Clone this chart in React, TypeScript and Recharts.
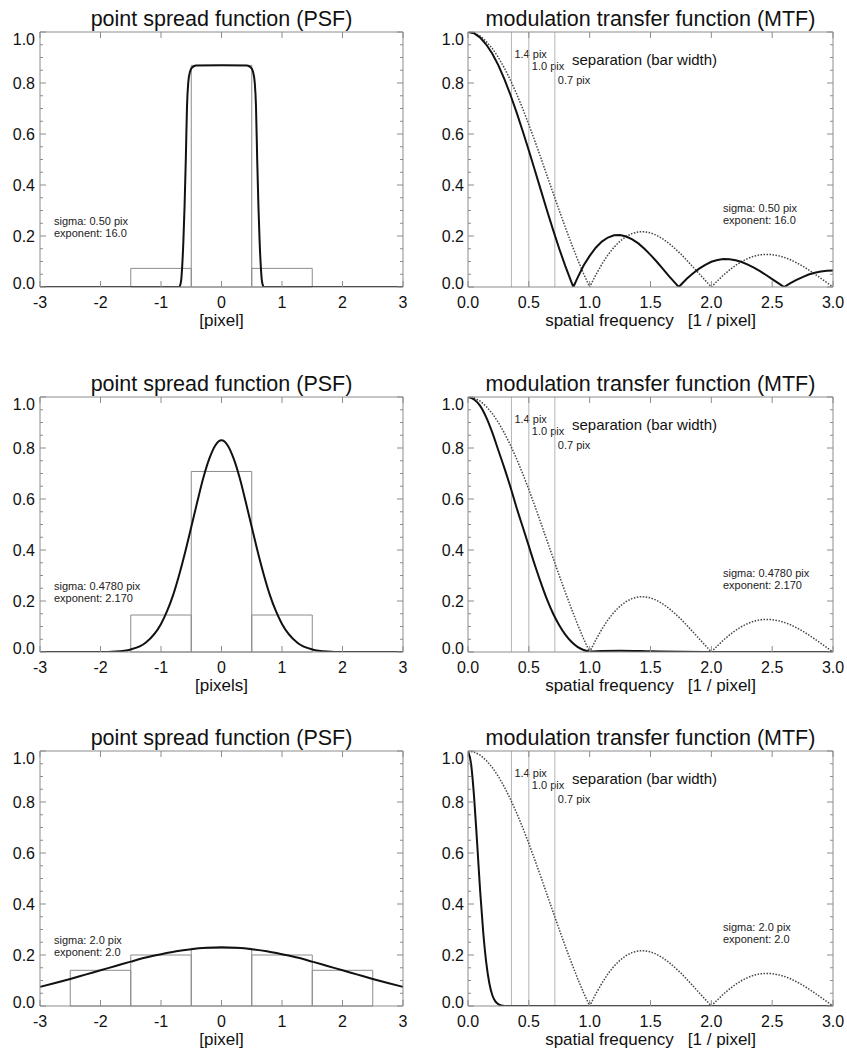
import React from "react";
import { LineChart, Line, XAxis, YAxis, ReferenceLine, ReferenceArea } from "recharts";

const FONT = "'Liberation Sans', Arial, Helvetica, sans-serif";
const INK = "#111";
const FRAME = "#8c8c8c";
const GUIDE = "#b4b4b4";

// axes
const psfTicks = [-3, -2, -1, 0, 1, 2, 3];
const mtfTicks = [0, 0.5, 1, 1.5, 2, 2.5, 3];
const yTicks = [0, 0.05, 0.1, 0.15, 0.2, 0.25, 0.3, 0.35, 0.4, 0.45, 0.5, 0.55, 0.6, 0.65, 0.7, 0.75, 0.8, 0.85, 0.9, 0.95, 1];
const yMajor = [0, 0.2, 0.4, 0.6, 0.8, 1];

// bar-width guides in the MTF panels
const sepFreq = [0.357, 0.5, 0.714];
const sepLabel = ["1.4 pix", "1.0 pix", "0.7 pix"];

// row 1: sigma 0.50, exponent 16
const psf1X = [-3, -0.7, -0.68, -0.665, -0.65, -0.63, -0.61, -0.59, -0.57, -0.55, -0.52, -0.48, -0.42, 0, 0.42, 0.48, 0.52, 0.55, 0.57, 0.59, 0.61, 0.63, 0.65, 0.665, 0.68, 0.7, 3];
const psf1Y = [0, 0, 0.01, 0.03, 0.08, 0.18, 0.32, 0.5, 0.71, 0.8, 0.845, 0.862, 0.869, 0.87, 0.869, 0.862, 0.845, 0.8, 0.71, 0.5, 0.32, 0.18, 0.08, 0.03, 0.01, 0, 0];
const bar1Edges = [-1.5, -0.5, 0.5, 1.5];
const bar1Heights = [0.073, 0.869, 0.073];
const mtf1Freq = [0, 0.05, 0.1, 0.15, 0.2, 0.25, 0.3, 0.35, 0.4, 0.45, 0.5, 0.55, 0.6, 0.65, 0.7, 0.75, 0.8, 0.85, 0.866, 0.9, 0.95, 1, 1.05, 1.1, 1.15, 1.2, 1.25, 1.3, 1.35, 1.4, 1.45, 1.5, 1.55, 1.6, 1.65, 1.7, 1.732, 1.75, 1.8, 1.85, 1.9, 1.95, 2, 2.05, 2.1, 2.15, 2.2, 2.25, 2.3, 2.35, 2.4, 2.45, 2.5, 2.55, 2.598, 2.65, 2.7, 2.75, 2.8, 2.85, 2.9, 2.95, 3];
const mtf1Val = [1, 0.995, 0.978, 0.951, 0.915, 0.869, 0.814, 0.752, 0.684, 0.611, 0.535, 0.457, 0.378, 0.299, 0.223, 0.15, 0.082, 0.019, 0, 0.036, 0.084, 0.122, 0.154, 0.178, 0.194, 0.203, 0.204, 0.198, 0.187, 0.171, 0.15, 0.126, 0.1, 0.072, 0.044, 0.017, 0, 0.009, 0.033, 0.054, 0.072, 0.087, 0.099, 0.106, 0.11, 0.109, 0.105, 0.098, 0.088, 0.076, 0.062, 0.047, 0.031, 0.015, 0, 0.015, 0.028, 0.039, 0.049, 0.056, 0.061, 0.064, 0.065];

// row 2: sigma 0.4780, exponent 2.170
const psf2X = [-3, -2, -1.75, -1.5, -1.25, -1, -0.9, -0.8, -0.7, -0.6, -0.5, -0.4, -0.3, -0.2, -0.1, 0, 0.1, 0.2, 0.3, 0.4, 0.5, 0.6, 0.7, 0.8, 0.9, 1, 1.25, 1.5, 1.75, 2, 3];
const psf2Y = [0, 0, 0.002, 0.01, 0.037, 0.11, 0.16, 0.223, 0.302, 0.392, 0.49, 0.589, 0.683, 0.759, 0.811, 0.83, 0.811, 0.759, 0.683, 0.589, 0.49, 0.392, 0.302, 0.223, 0.16, 0.11, 0.037, 0.01, 0.002, 0, 0];
const bar2Edges = [-1.5, -0.5, 0.5, 1.5];
const bar2Heights = [0.145, 0.708, 0.145];
const mtf2Freq = [0, 0.05, 0.1, 0.15, 0.2, 0.25, 0.3, 0.35, 0.4, 0.45, 0.5, 0.55, 0.6, 0.65, 0.7, 0.75, 0.8, 0.85, 0.9, 0.95, 1, 1.1, 1.25, 1.5, 1.75, 2, 3];
const mtf2Val = [1, 0.99, 0.965, 0.92, 0.86, 0.79, 0.72, 0.645, 0.565, 0.49, 0.415, 0.34, 0.27, 0.205, 0.15, 0.105, 0.068, 0.04, 0.02, 0.008, 0.002, 0.004, 0.005, 0.003, 0.001, 0, 0];

// row 3: sigma 2.0, exponent 2.0
const psf3X = [-3, -2.75, -2.5, -2.25, -2, -1.75, -1.5, -1.25, -1, -0.75, -0.5, -0.25, 0, 0.25, 0.5, 0.75, 1, 1.25, 1.5, 1.75, 2, 2.25, 2.5, 2.75, 3];
const psf3Y = [0.075, 0.09, 0.106, 0.123, 0.14, 0.157, 0.174, 0.19, 0.203, 0.215, 0.223, 0.228, 0.23, 0.228, 0.223, 0.215, 0.203, 0.19, 0.174, 0.157, 0.14, 0.123, 0.106, 0.09, 0.075];
const bar3Edges = [-2.5, -1.5, -0.5, 0.5, 1.5, 2.5];
const bar3Heights = [0.14, 0.2, 0.226, 0.2, 0.14];
const mtf3Freq = [0, 0.025, 0.05, 0.075, 0.1, 0.125, 0.15, 0.175, 0.2, 0.225, 0.25, 0.275, 0.3, 0.4, 3];
const mtf3Val = [1, 0.95, 0.82, 0.64, 0.45, 0.29, 0.17, 0.09, 0.042, 0.018, 0.007, 0.002, 0, 0, 0];

// pixel (box) MTF, dotted, same in every row
const pixFreq = [0, 0.05, 0.1, 0.15, 0.2, 0.25, 0.3, 0.35, 0.4, 0.45, 0.5, 0.55, 0.6, 0.65, 0.7, 0.75, 0.8, 0.85, 0.9, 0.95, 1, 1.05, 1.1, 1.15, 1.2, 1.25, 1.3, 1.35, 1.4, 1.45, 1.5, 1.55, 1.6, 1.65, 1.7, 1.75, 1.8, 1.85, 1.9, 1.95, 2, 2.05, 2.1, 2.15, 2.2, 2.25, 2.3, 2.35, 2.4, 2.45, 2.5, 2.55, 2.6, 2.65, 2.7, 2.75, 2.8, 2.85, 2.9, 2.95, 3];
const pixMtf = [1, 0.996, 0.984, 0.963, 0.935, 0.9, 0.858, 0.81, 0.757, 0.699, 0.637, 0.572, 0.505, 0.436, 0.368, 0.3, 0.234, 0.17, 0.109, 0.052, 0, 0.047, 0.089, 0.126, 0.156, 0.18, 0.198, 0.21, 0.216, 0.217, 0.212, 0.203, 0.189, 0.172, 0.151, 0.129, 0.104, 0.078, 0.052, 0.026, 0, 0.024, 0.047, 0.067, 0.085, 0.1, 0.112, 0.121, 0.126, 0.128, 0.127, 0.123, 0.116, 0.107, 0.095, 0.082, 0.067, 0.051, 0.034, 0.017, 0];

const toPts = (xs: number[], ys: number[]) => xs.map((x, i) => ({ x, y: ys[i] }));

const rows = [
  { psf: toPts(psf1X, psf1Y), edges: bar1Edges, heights: bar1Heights, mtf: toPts(mtf1Freq, mtf1Val), mtfCurve: "linear", xlabel: "[pixel]", sigma: "sigma: 0.50 pix", expo: "exponent: 16.0" },
  { psf: toPts(psf2X, psf2Y), edges: bar2Edges, heights: bar2Heights, mtf: toPts(mtf2Freq, mtf2Val), mtfCurve: "monotone", xlabel: "[pixels]", sigma: "sigma: 0.4780 pix", expo: "exponent: 2.170" },
  { psf: toPts(psf3X, psf3Y), edges: bar3Edges, heights: bar3Heights, mtf: toPts(mtf3Freq, mtf3Val), mtfCurve: "monotone", xlabel: "[pixel]", sigma: "sigma: 2.0 pix", expo: "exponent: 2.0" },
];
const pixPts = toPts(pixFreq, pixMtf);

// layout
const ROW_TOP = [32, 397, 751];
const TOP_H = 32;
const PLOT_H = 255;
const BOTTOM_H = 48;
const CHART_H = TOP_H + PLOT_H + BOTTOM_H;
const LEFT = { left: 0, width: 420, yw: 40, rw: 17 };
const RIGHT = { left: 423, width: 424, yw: 45, rw: 14 };

function FrameTick(props: any) {
  const { x, y, payload, side, major, fmt, gap = 5 } = props;
  const v = payload.value;
  const isMajor = major.some((m: number) => Math.abs(m - v) < 1e-9);
  const len = isMajor ? 6 : 3;
  let tick = null;
  let label = null;
  if (side === "bottom") {
    tick = <line x1={x} y1={y} x2={x} y2={y - len} />;
    if (isMajor) label = <text x={x} y={y + 15} dy="0.35em" textAnchor="middle">{fmt(v)}</text>;
  } else if (side === "top") {
    tick = <line x1={x} y1={y} x2={x} y2={y + len} />;
  } else if (side === "left") {
    tick = <line x1={x} y1={y} x2={x + len} y2={y} />;
    const shift = v === 1 ? 7 : v === 0 ? -4 : 0;
    if (isMajor) label = <text x={x - gap} y={y + shift} dy="0.35em" textAnchor="end">{fmt(v)}</text>;
  } else {
    tick = <line x1={x} y1={y} x2={x - len} y2={y} />;
  }
  return (
    <g>
      <g stroke={FRAME} strokeWidth={1}>{tick}</g>
      {label && <g fill={INK} fontSize={16} fontFamily={FONT}>{label}</g>}
    </g>
  );
}

function AxisTitle(props: any) {
  const { viewBox, text } = props;
  return (
    <text x={viewBox.x + viewBox.width / 2} y={viewBox.y + 33} dy="0.35em" textAnchor="middle" fontSize={17} fill={INK} fontFamily={FONT} style={{ whiteSpace: "pre" }}>
      {text}
    </text>
  );
}

function GuideLabel(props: any) {
  const { viewBox, text, dy } = props;
  return (
    <text x={viewBox.x + 3} y={viewBox.y + dy} dy="0.35em" fontSize={11} fill="#222" fontFamily={FONT}>
      {text}
    </text>
  );
}

const fmtInt = (v: number) => String(v);
const fmtOne = (v: number) => v.toFixed(1);

function Frame({ xTicks, xDomain, fmtX, yw, rw, xlabel }: any) {
  return [
    <XAxis key="xb" xAxisId={0} dataKey="x" type="number" domain={xDomain} ticks={xTicks} allowDataOverflow interval={0} height={BOTTOM_H} tickSize={0} tickMargin={0} tickLine={false} axisLine={{ stroke: FRAME }} tick={<FrameTick side="bottom" major={xTicks} fmt={fmtX} />} label={<AxisTitle text={xlabel} />} />,
    <XAxis key="xt" xAxisId="top" orientation="top" dataKey="x" type="number" domain={xDomain} ticks={xTicks} allowDataOverflow interval={0} height={TOP_H} tickSize={0} tickMargin={0} tickLine={false} axisLine={{ stroke: FRAME }} tick={<FrameTick side="top" major={xTicks} />} />,
    <YAxis key="yl" yAxisId={0} type="number" domain={[0, 1]} ticks={yTicks} allowDataOverflow interval={0} width={yw} tickSize={0} tickMargin={0} tickLine={false} axisLine={{ stroke: FRAME }} tick={<FrameTick side="left" major={yMajor} fmt={fmtOne} gap={yw > 42 ? 4 : 5} />} />,
    <YAxis key="yr" yAxisId="right" orientation="right" type="number" domain={[0, 1]} ticks={yTicks} allowDataOverflow interval={0} width={rw} tickSize={0} tickMargin={0} tickLine={false} axisLine={{ stroke: FRAME }} tick={<FrameTick side="right" major={yMajor} />} />,
  ];
}

const textStyle = (x: number, y: number, size: number, extra: any = {}) => ({
  position: "absolute" as const,
  left: x,
  top: y,
  fontSize: size,
  lineHeight: 1,
  transform: "translateY(-50%)",
  whiteSpace: "pre" as const,
  color: INK,
  ...extra,
});

function PsfPanel({ row, top }: any) {
  const col = LEFT;
  const plotW = col.width - col.yw - col.rw;
  return (
    <div style={{ position: "absolute", left: col.left, top: top - TOP_H, width: col.width, height: CHART_H }}>
      <LineChart width={col.width} height={CHART_H} margin={{ top: 0, right: 0, bottom: 0, left: 0 }}>
        {Frame({ xTicks: psfTicks, xDomain: [-3, 3], fmtX: fmtInt, yw: col.yw, rw: col.rw, xlabel: row.xlabel })}
        {row.heights.map((h: number, i: number) => (
          <ReferenceArea key={i} x1={row.edges[i]} x2={row.edges[i + 1]} y1={0} y2={h} stroke={FRAME} strokeWidth={1} fill="none" fillOpacity={0} ifOverflow="visible" />
        ))}
        <Line data={row.psf} dataKey="y" type="monotone" stroke={INK} strokeWidth={2} dot={false} activeDot={false} isAnimationActive={false} />
      </LineChart>
      <div style={textStyle(col.yw + plotW / 2, TOP_H - 12, 21.5, { transform: "translate(-50%, -50%)" })}>point spread function (PSF)</div>
      <div style={textStyle(54, TOP_H + PLOT_H - 66, 11, { color: "#222" })}>{row.sigma}</div>
      <div style={textStyle(54, TOP_H + PLOT_H - 54, 11, { color: "#222" })}>{row.expo}</div>
    </div>
  );
}

function MtfPanel({ row, top }: any) {
  const col = RIGHT;
  const plotW = col.width - col.yw - col.rw;
  const guideDy = [22, 34, 48];
  return (
    <div style={{ position: "absolute", left: col.left, top: top - TOP_H, width: col.width, height: CHART_H }}>
      <LineChart width={col.width} height={CHART_H} margin={{ top: 0, right: 0, bottom: 0, left: 0 }}>
        {Frame({ xTicks: mtfTicks, xDomain: [0, 3], fmtX: fmtOne, yw: col.yw, rw: col.rw, xlabel: "spatial frequency   [1 / pixel]" })}
        {sepFreq.map((f, i) => (
          <ReferenceLine key={i} x={f} stroke={GUIDE} strokeWidth={1} label={<GuideLabel text={sepLabel[i]} dy={guideDy[i]} />} />
        ))}
        <Line data={pixPts} dataKey="y" type="linear" stroke="#444" strokeWidth={1.5} strokeDasharray="1.5 1.5" dot={false} activeDot={false} isAnimationActive={false} />
        <Line data={row.mtf} dataKey="y" type={row.mtfCurve} stroke={INK} strokeWidth={2} dot={false} activeDot={false} isAnimationActive={false} />
      </LineChart>
      <div style={textStyle(col.yw + plotW / 2, TOP_H - 12, 21.5, { transform: "translate(-50%, -50%)" })}>modulation transfer function (MTF)</div>
      <div style={textStyle(149, TOP_H + 27, 15)}>separation (bar width)</div>
      <div style={textStyle(300, TOP_H + PLOT_H - 79, 11, { color: "#222" })}>{row.sigma}</div>
      <div style={textStyle(300, TOP_H + PLOT_H - 67, 11, { color: "#222" })}>{row.expo}</div>
    </div>
  );
}

export default function App() {
  return (
    <div style={{ position: "absolute", left: 0, top: 0, width: 847, height: 1050, overflow: "hidden", background: "#fff", fontFamily: FONT }}>
      {rows.map((row, i) => (
        <React.Fragment key={i}>
          <PsfPanel row={row} top={ROW_TOP[i]} />
          <MtfPanel row={row} top={ROW_TOP[i]} />
        </React.Fragment>
      ))}
    </div>
  );
}
